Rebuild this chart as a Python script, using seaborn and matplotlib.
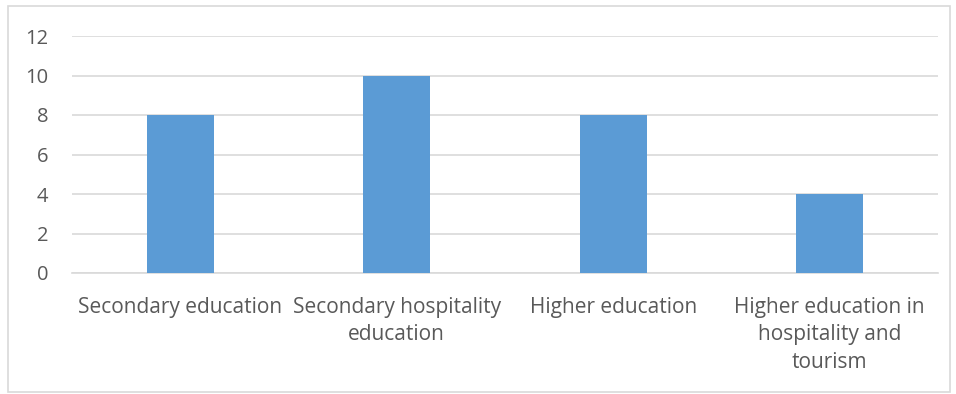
import matplotlib
matplotlib.use("Agg")
import matplotlib.pyplot as plt
import seaborn as sns
import pandas as pd
from matplotlib.patches import Rectangle

categories = ["Secondary education", "Secondary hospitality\neducation",
              "Higher education", "Higher education in\nhospitality and\ntourism"]
values = [8, 10, 8, 4]
yticks = [0, 2, 4, 6, 8, 10, 12]

sns.set_theme(style="white")
plt.rcParams['font.family'] = ['Open Sans', 'DejaVu Sans']

W, H = 956, 394
fig = plt.figure(figsize=(W / 100, H / 100), dpi=100)
ax = fig.add_axes([72 / W, 1 - 273 / H, (938 - 72) / W, (273 - 36) / H])

df = pd.DataFrame({"cat": categories, "val": values})
sns.barplot(data=df, x="cat", y="val", color="#5B9BD5", width=0.31,
            saturation=1, ax=ax, zorder=3, linewidth=0)

ax.set_ylim(0, 12)
ax.set_xlim(-0.5, len(categories) - 0.5)
ax.set_yticks(yticks)
ax.set_yticklabels([str(t) for t in yticks])
ax.yaxis.grid(True, color="#D9D9D9", linewidth=1.2, zorder=0)
ax.set_axisbelow(True)
for s in ["top", "right", "left"]:
    ax.spines[s].set_visible(False)
ax.spines["bottom"].set_color("#D9D9D9")
ax.spines["bottom"].set_linewidth(1.2)
ax.set_xlabel("")
ax.set_ylabel("")
ax.tick_params(axis="y", length=0, pad=17, labelsize=14.5, labelcolor="#595959")
ax.tick_params(axis="x", length=0, pad=17, labelsize=15, labelcolor="#595959")
for lbl in ax.get_xticklabels():
    lbl.set_linespacing(1.42)

fig.patches.append(Rectangle((8 / W, 1 - 392 / H), (950 - 8) / W, (392 - 6) / H,
                             transform=fig.transFigure, fill=False,
                             edgecolor="#D9D9D9", linewidth=1.2))

fig.savefig("out.png", dpi=100, facecolor="white")
